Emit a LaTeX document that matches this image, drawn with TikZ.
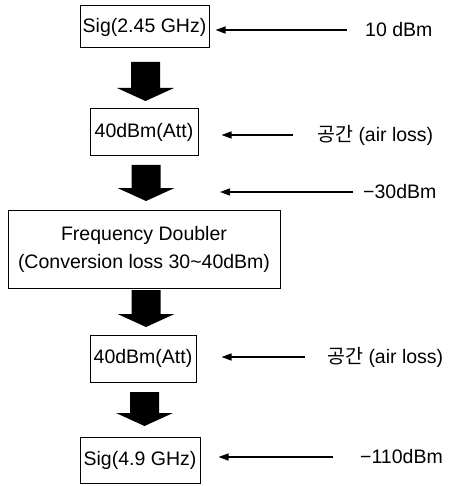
\documentclass[tikz,border=0pt]{standalone}
\usepackage{fontspec}
\setmainfont{Liberation Sans}
\newfontfamily\kr{Noto Sans CJK KR}
\usetikzlibrary{arrows.meta}
\begin{document}
\begin{tikzpicture}[x=1pt,y=1pt,
  box/.style={draw=black,line width=1pt,inner sep=0pt,align=center,
    font=\fontsize{19.5}{28}\selectfont},
  lbl/.style={anchor=west,inner sep=0pt,font=\fontsize{19.5}{23}\selectfont},
  thinarrow/.style={line width=1.3pt,-{Triangle[length=10pt,width=7pt]}},
  blockarrow/.pic={\fill[black] (-14.5,0) -- (14.5,0) -- (14.5,-#1) -- (28.5,-#1)
     -- (0,-#1-13) -- (-28.5,-#1) -- (-14.5,-#1) -- cycle;}
]
\useasboundingbox (0,0) rectangle (451,-486);
% boxes
\node[box,minimum width=129,minimum height=42] (b1) at (144.5,-27) {Sig(2.45 GHz)};
\node[box,minimum width=108,minimum height=47] (b2) at (144,-132) {40dBm(Att)};
\node[box,minimum width=272,minimum height=78] (b3) at (144,-249) {Frequency Doubler\\(Conversion loss 30\textasciitilde40dBm)};
\node[box,minimum width=106,minimum height=47] (b4) at (143,-358.5) {40dBm(Att)};
\node[box,minimum width=120,minimum height=46] (b5) at (140,-460) {Sig(4.9 GHz)};
% block arrows
\pic at (145.5,-62) {blockarrow=26};
\pic at (146,-165) {blockarrow=23};
\pic at (146,-290) {blockarrow=24};
\pic at (144.5,-392) {blockarrow=21};
% labels
\node[lbl] (l1) at (365,-30) {10 dBm};
\node[lbl] (l2) at (317,-135) {{\kr 공간} (air loss)};
\node[lbl] (l3) at (363,-192) {−30dBm};
\node[lbl] (l4) at (327,-357) {{\kr 공간} (air loss)};
\node[lbl] (l5) at (360,-457) {−110dBm};
% thin arrows
\coordinate (s1) at (347,-30);
\coordinate (s2) at (293,-135);
\coordinate (s3) at (353,-192);
\coordinate (t3) at (220,-192);
\coordinate (s4) at (305,-357);
\coordinate (s5) at (333,-457);
\draw[thinarrow,shorten >=6pt] (s1) -- (s1 -| b1.east);
\draw[thinarrow,shorten >=23pt] (s2) -- (s2 -| b2.east);
\draw[thinarrow] (s3) -- (t3);
\draw[thinarrow,shorten >=25pt] (s4) -- (s4 -| b4.east);
\draw[thinarrow,shorten >=18pt] (s5) -- (s5 -| b5.east);
\end{tikzpicture}
\end{document}
